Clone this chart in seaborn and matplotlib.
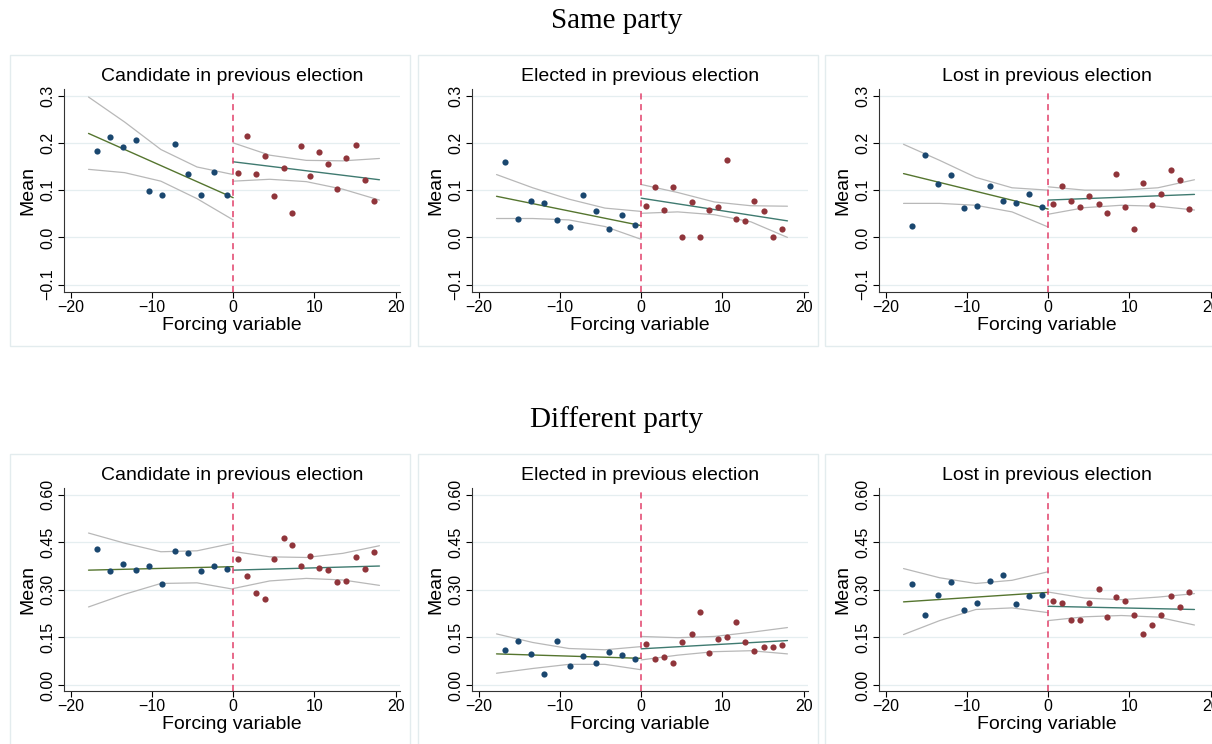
"""Binned means around the cutoff with linear fits and 95% CIs."""

import matplotlib.pyplot as plt
import seaborn as sns
from matplotlib.patches import Rectangle

# bin centres of the forcing variable
x_left = [-16.8, -15.2, -13.6, -12.0, -10.4, -8.8, -7.2, -5.6, -4.0, -2.4, -0.8]
x_right = [0.6, 1.7, 2.8, 3.9, 5.0, 6.2, 7.3, 8.4, 9.5, 10.6, 11.7, 12.8,
           13.9, 15.1, 16.2, 17.3]

# x positions at which the fitted lines / CI bounds were read
fit_x_left = [-17.8, -13.35, -8.9, -4.45, 0.0]
fit_x_right = [0.0, 4.5, 9.0, 13.5, 18.0]

row_titles = ["Same party", "Different party"]
panel_titles = ["Candidate in previous election",
                "Elected in previous election",
                "Lost in previous election"]

# ---- Same party -----------------------------------------------------------
same_cand_left = [0.183, 0.213, 0.191, 0.206, 0.098, 0.089, 0.198, 0.134,
                  0.089, 0.139, 0.089]
same_cand_right = [0.136, 0.214, 0.135, 0.173, 0.088, 0.147, 0.051, 0.193,
                   0.129, 0.181, 0.155, 0.102, 0.168, 0.196, 0.122, 0.078]
same_cand_fit = {"left": [0.220, 0.084], "right": [0.160, 0.122],
                 "left_hi": [0.297, 0.244, 0.186, 0.149, 0.133],
                 "left_lo": [0.144, 0.137, 0.119, 0.082, 0.037],
                 "right_hi": [0.200, 0.174, 0.163, 0.162, 0.167],
                 "right_lo": [0.119, 0.123, 0.118, 0.102, 0.079]}

same_elec_left = [0.159, 0.039, 0.078, 0.073, 0.036, 0.023, 0.089, 0.056,
                  0.017, 0.047, 0.026]
same_elec_right = [0.066, 0.106, 0.058, 0.107, 0.0, 0.075, 0.0, 0.059,
                   0.065, 0.164, 0.039, 0.034, 0.077, 0.055, 0.0, 0.018]
same_elec_fit = {"left": [0.087, 0.025], "right": [0.083, 0.035],
                 "left_hi": [0.133, 0.105, 0.081, 0.062, 0.055],
                 "left_lo": [0.040, 0.040, 0.037, 0.023, -0.004],
                 "right_hi": [0.112, 0.095, 0.075, 0.067, 0.066],
                 "right_lo": [0.051, 0.054, 0.048, 0.033, 0.000]}

same_lost_left = [0.025, 0.174, 0.113, 0.133, 0.062, 0.066, 0.109, 0.078,
                  0.072, 0.091, 0.064]
same_lost_right = [0.070, 0.109, 0.076, 0.065, 0.088, 0.071, 0.051, 0.134,
                   0.064, 0.017, 0.116, 0.068, 0.091, 0.142, 0.122, 0.061]
same_lost_fit = {"left": [0.135, 0.060], "right": [0.079, 0.091],
                 "left_hi": [0.197, 0.163, 0.127, 0.105, 0.100],
                 "left_lo": [0.072, 0.072, 0.068, 0.054, 0.022],
                 "right_hi": [0.107, 0.100, 0.100, 0.105, 0.122],
                 "right_lo": [0.049, 0.063, 0.068, 0.066, 0.058]}

# ---- Different party ------------------------------------------------------
diff_cand_left = [0.428, 0.360, 0.382, 0.361, 0.376, 0.318, 0.421, 0.417,
                  0.358, 0.375, 0.365]
diff_cand_right = [0.396, 0.342, 0.290, 0.272, 0.396, 0.462, 0.442, 0.376,
                   0.406, 0.370, 0.361, 0.325, 0.328, 0.402, 0.366, 0.418]
diff_cand_fit = {"left": [0.362, 0.373], "right": [0.362, 0.375],
                 "left_hi": [0.479, 0.447, 0.420, 0.423, 0.447],
                 "left_lo": [0.246, 0.286, 0.320, 0.322, 0.302],
                 "right_hi": [0.421, 0.404, 0.402, 0.415, 0.439],
                 "right_lo": [0.304, 0.328, 0.336, 0.331, 0.314]}

diff_elec_left = [0.110, 0.139, 0.097, 0.035, 0.139, 0.059, 0.091, 0.068,
                  0.103, 0.093, 0.081]
diff_elec_right = [0.130, 0.081, 0.087, 0.069, 0.137, 0.161, 0.229, 0.102,
                   0.144, 0.150, 0.200, 0.137, 0.106, 0.120, 0.120, 0.125]
diff_elec_fit = {"left": [0.098, 0.084], "right": [0.114, 0.140],
                 "left_hi": [0.161, 0.134, 0.115, 0.111, 0.121],
                 "left_lo": [0.037, 0.052, 0.065, 0.065, 0.048],
                 "right_hi": [0.153, 0.149, 0.153, 0.166, 0.181],
                 "right_lo": [0.079, 0.094, 0.105, 0.108, 0.098]}

diff_lost_left = [0.318, 0.220, 0.285, 0.326, 0.236, 0.259, 0.329, 0.348,
                  0.254, 0.281, 0.283]
diff_lost_right = [0.265, 0.259, 0.204, 0.205, 0.258, 0.304, 0.215, 0.276,
                   0.265, 0.221, 0.161, 0.189, 0.222, 0.281, 0.247, 0.293]
diff_lost_fit = {"left": [0.262, 0.292], "right": [0.248, 0.238],
                 "left_hi": [0.367, 0.338, 0.320, 0.330, 0.357],
                 "left_lo": [0.159, 0.203, 0.238, 0.243, 0.228],
                 "right_hi": [0.293, 0.274, 0.269, 0.277, 0.288],
                 "right_lo": [0.203, 0.215, 0.219, 0.214, 0.189]}

rows = [
    [(same_cand_left, same_cand_right, same_cand_fit),
     (same_elec_left, same_elec_right, same_elec_fit),
     (same_lost_left, same_lost_right, same_lost_fit)],
    [(diff_cand_left, diff_cand_right, diff_cand_fit),
     (diff_elec_left, diff_elec_right, diff_elec_fit),
     (diff_lost_left, diff_lost_right, diff_lost_fit)],
]
row_yticks = [[-0.1, 0.0, 0.1, 0.2, 0.3], [0.0, 0.15, 0.30, 0.45, 0.60]]
row_ylim = [(-0.1155, 0.314), (-0.019, 0.621)]
row_fmt = ["{:.1f}", "{:.2f}"]

BLUE = "#1a476f"
RED = "#90353b"
FIT_LEFT = "#55752f"
FIT_RIGHT = "#3f7a70"
CI_GREY = "#b8b8b8"
CUTOFF = "#e2406a"
GRID = "#e5eef0"
BOX = "#e3ecee"

sns.set_theme(style="white")
plt.rcParams["font.family"] = ["Liberation Sans", "DejaVu Sans"]
plt.rcParams["text.color"] = "black"
plt.rcParams["axes.labelcolor"] = "black"
plt.rcParams["xtick.color"] = "black"
plt.rcParams["ytick.color"] = "black"

W, H = 1212, 744
fig = plt.figure(figsize=(W / 100, H / 100), dpi=100)

box_x = [10, 418, 825]
box_y = [55, 454]
title_y = [21, 420]

for r in range(2):
    fig.text(617 / W, 1 - title_y[r] / H, row_titles[r], ha="center",
             va="center", fontsize=21, family="Liberation Serif")
    for c in range(3):
        bx, by = box_x[c], box_y[r]
        fig.add_artist(Rectangle((bx / W, 1 - (by + 291) / H), 400 / W,
                                 291 / H, transform=fig.transFigure,
                                 fill=False, ec=BOX, lw=1.0))
        ax = fig.add_axes([(bx + 54) / W, 1 - (by + 237) / H, 336 / W,
                           203 / H])
        y_l, y_r, fit = rows[r][c]

        for yt in row_yticks[r]:
            ax.axhline(yt, color=GRID, lw=0.9, zorder=0)

        ax.plot(fit_x_left, fit["left_lo"], color=CI_GREY, lw=0.9)
        ax.plot(fit_x_left, fit["left_hi"], color=CI_GREY, lw=0.9)
        ax.plot(fit_x_right, fit["right_lo"], color=CI_GREY, lw=0.9)
        ax.plot(fit_x_right, fit["right_hi"], color=CI_GREY, lw=0.9)
        ax.plot([fit_x_left[0], fit_x_left[-1]], fit["left"],
                color=FIT_LEFT, lw=1.0)
        ax.plot([fit_x_right[0], fit_x_right[-1]], fit["right"],
                color=FIT_RIGHT, lw=1.0)

        sns.scatterplot(x=x_left, y=y_l, ax=ax, color=BLUE, s=20,
                        linewidth=0, zorder=3)
        sns.scatterplot(x=x_right, y=y_r, ax=ax, color=RED, s=20,
                        linewidth=0, zorder=3)
        ax.axvline(0, color=CUTOFF, lw=1.1, ls=(0, (4, 3)), zorder=2)

        ax.set_xlim(-20.82, 20.53)
        ax.set_ylim(*row_ylim[r])
        ax.set_xticks([-20, -10, 0, 10, 20])
        ax.set_xticklabels(["\u221220", "\u221210", "0", "10", "20"])
        ax.set_yticks(row_yticks[r])
        ax.set_yticklabels([row_fmt[r].format(v).replace("-", "\u2212")
                            for v in row_yticks[r]],
                           rotation=90, va="center")
        ax.tick_params(axis="both", direction="out", length=4, width=0.8,
                       color="black", labelsize=11.5, pad=2,
                       bottom=True, left=True)
        for side in ["top", "right"]:
            ax.spines[side].set_visible(False)
        for side in ["left", "bottom"]:
            ax.spines[side].set_color("#333333")
            ax.spines[side].set_linewidth(0.8)
        ax.set_title(panel_titles[c], fontsize=14, pad=6)
        ax.set_xlabel("Forcing variable", fontsize=14, labelpad=1)
        ax.set_ylabel("Mean", fontsize=14, labelpad=3)
        ax.set_facecolor("white")

fig.savefig("out.png", dpi=100, facecolor="white")
